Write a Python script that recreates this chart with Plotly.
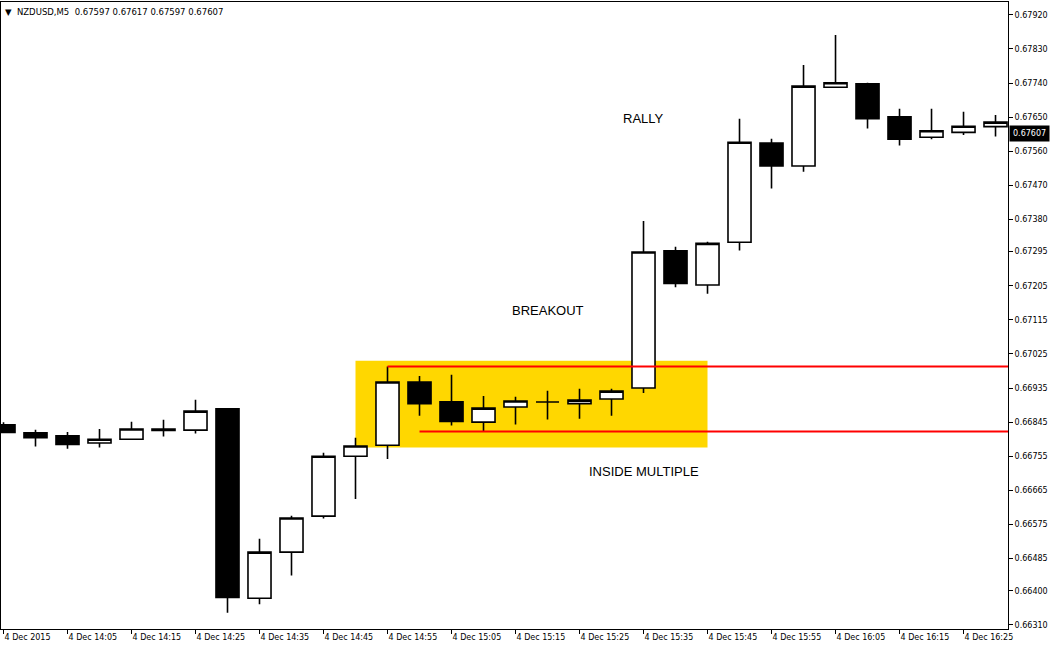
"""NZDUSD M5 candlestick chart: inside-multiple range, breakout and rally."""
import plotly.graph_objects as go

# ---------------------------------------------------------------------------
# Data
# ---------------------------------------------------------------------------
bar_times = [
    "13:55", "14:00", "14:05", "14:10", "14:15", "14:20", "14:25", "14:30",
    "14:35", "14:40", "14:45", "14:50", "14:55", "15:00", "15:05", "15:10",
    "15:15", "15:20", "15:25", "15:30", "15:35", "15:40", "15:45", "15:50",
    "15:55", "16:00", "16:05", "16:10", "16:15", "16:20", "16:25", "16:30",
]
opens = [
    0.66838, 0.66817, 0.66809, 0.66790, 0.66800, 0.66827, 0.66824, 0.66880,
    0.66380, 0.66502, 0.66597, 0.66755, 0.66784, 0.66951, 0.66899, 0.66845,
    0.66885, 0.66898, 0.66894, 0.66906, 0.66935, 0.67297, 0.67207, 0.67320,
    0.67582, 0.67521, 0.67729, 0.67738, 0.67651, 0.67597, 0.67610, 0.67625,
]
highs = [
    0.66845, 0.66825, 0.66819, 0.66827, 0.66846, 0.66851, 0.66904, 0.66880,
    0.66537, 0.66598, 0.66764, 0.66804, 0.66992, 0.66967, 0.66970, 0.66914,
    0.66912, 0.66928, 0.66933, 0.66933, 0.67376, 0.67308, 0.67321, 0.67646,
    0.67593, 0.67788, 0.67867, 0.67741, 0.67672, 0.67672, 0.67664, 0.67656,
]
lows = [
    0.66818, 0.66781, 0.66775, 0.66778, 0.66800, 0.66807, 0.66815, 0.66342,
    0.66364, 0.66440, 0.66591, 0.66642, 0.66748, 0.66862, 0.66836, 0.66820,
    0.66839, 0.66852, 0.66854, 0.66862, 0.66922, 0.67201, 0.67184, 0.67298,
    0.67462, 0.67506, 0.67729, 0.67620, 0.67575, 0.67592, 0.67603, 0.67599,
]
closes = [
    0.66818, 0.66804, 0.66786, 0.66800, 0.66827, 0.66823, 0.66874, 0.66382,
    0.66502, 0.66592, 0.66755, 0.66782, 0.66951, 0.66894, 0.66847, 0.66882,
    0.66901, 0.66898, 0.66903, 0.66927, 0.67294, 0.67211, 0.67317, 0.67584,
    0.67521, 0.67732, 0.67741, 0.67646, 0.67592, 0.67614, 0.67626, 0.67637,
]

# header OHLC of the current bar
symbol = "NZDUSD,M5"
header_ohlc = [0.67597, 0.67617, 0.67597, 0.67607]

price_ticks = [
    0.66310, 0.66400, 0.66485, 0.66575, 0.66665, 0.66755, 0.66845, 0.66935,
    0.67025, 0.67115, 0.67205, 0.67295, 0.67380, 0.67470, 0.67560, 0.67650,
    0.67740, 0.67830, 0.67920,
]

# inside-multiple box (bar index span, price span)
box_bars = [11, 22]
box_prices = [0.66778, 0.67007]

# horizontal rays: (start bar, level)
ray_starts = [12, 13]
ray_levels = [0.66992, 0.66820]

# text labels: (text, bar position of left edge, price)
label_texts = ["RALLY", "BREAKOUT", "INSIDE MULTIPLE"]
label_x = [19.29, 15.83, 18.24]
label_y = [0.67646, 0.67139, 0.66716]

X_RANGE = [-0.078, 31.39]
Y_RANGE = [0.66299, 0.67954]

AXIS_FONT = dict(family="DejaVu Sans", size=8, color="black")

# ---------------------------------------------------------------------------
# Figure
# ---------------------------------------------------------------------------
bars = list(range(len(bar_times)))
tick_bars = bars[::2]
tick_text = ["4 Dec 2015"] + ["4 Dec " + bar_times[i] for i in tick_bars[1:]]

fig = go.Figure()
fig.add_trace(
    go.Candlestick(
        x=bars, open=opens, high=highs, low=lows, close=closes,
        increasing=dict(fillcolor="white", line=dict(color="black", width=1.6)),
        decreasing=dict(fillcolor="black", line=dict(color="black", width=1.6)),
        whiskerwidth=0,
        hoverinfo="skip",
        showlegend=False,
    )
)

fig.add_shape(
    type="rect", xref="x", yref="y",
    x0=box_bars[0], x1=box_bars[1], y0=box_prices[0], y1=box_prices[1],
    fillcolor="#FFD700", line=dict(width=0), layer="below",
)
for start, level in zip(ray_starts, ray_levels):
    fig.add_shape(
        type="line", xref="x", yref="y",
        x0=start, x1=X_RANGE[1] + 1, y0=level, y1=level,
        line=dict(color="#FF0000", width=2), layer="above",
    )

for text, lx, ly in zip(label_texts, label_x, label_y):
    fig.add_annotation(
        x=lx, y=ly, xref="x", yref="y", text=text, showarrow=False,
        xanchor="left", yanchor="middle",
        font=dict(family="Liberation Sans", size=13, color="black"),
    )

header = "\u25bc\u00a0\u00a0" + symbol + "\u00a0\u00a0" + " ".join(f"{v:.5f}" for v in header_ohlc)
fig.add_annotation(
    x=0, y=1, xref="paper", yref="paper", text=header, showarrow=False,
    xanchor="left", yanchor="top", xshift=2, yshift=-3,
    font=dict(family="DejaVu Sans", size=8.5, color="black"),
)

# current price tag on the price scale
fig.add_annotation(
    x=1, y=header_ohlc[3], xref="paper", yref="y", text=f"{header_ohlc[3]:.5f}",
    showarrow=False, xanchor="left", yanchor="middle", xshift=1,
    bgcolor="black", borderpad=3,
    font=dict(family="DejaVu Sans", size=8, color="white"),
)

fig.update_layout(
    width=1051, height=647,
    margin=dict(l=1, r=43, t=2, b=18),
    paper_bgcolor="white", plot_bgcolor="white",
    showlegend=False,
    boxgap=0.28, boxgroupgap=0,
    xaxis=dict(
        range=X_RANGE, rangeslider=dict(visible=False),
        tickvals=tick_bars, ticktext=tick_text,
        ticks="outside", ticklen=4, tickcolor="black",
        ticklabelposition="outside right",
        showline=True, linecolor="black", linewidth=1, mirror=True,
        showgrid=False, zeroline=False, automargin=False,
        tickfont=AXIS_FONT,
    ),
    yaxis=dict(
        range=Y_RANGE, side="right",
        tickvals=price_ticks, tickformat=".5f",
        ticks="outside", ticklen=4, tickcolor="black",
        showline=True, linecolor="black", linewidth=1, mirror=True,
        showgrid=False, zeroline=False, automargin=False,
        tickfont=AXIS_FONT,
    ),
)

# the page's default body margin would push the fixed-size figure off-screen
fig.write_html(
    "out.html",
    config={"displayModeBar": False},
    post_script="document.body.style.margin='0';document.body.style.overflow='hidden';",
)
